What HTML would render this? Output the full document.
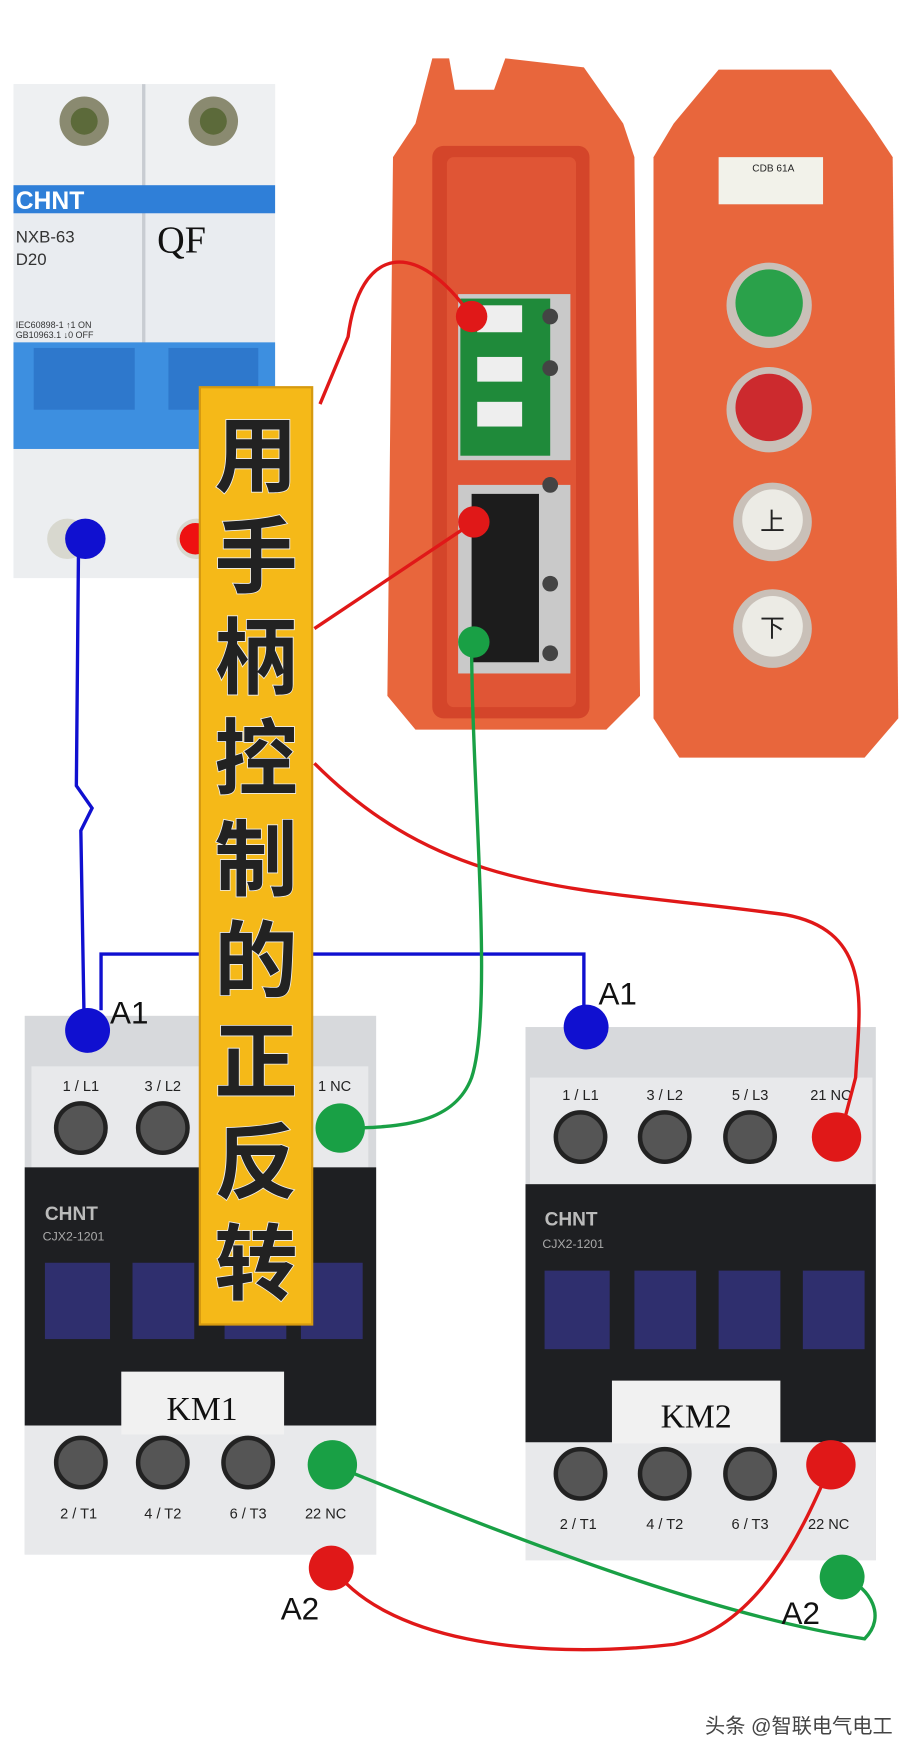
<!DOCTYPE html>
<html><head><meta charset="utf-8"><style>
html,body{margin:0;padding:0;background:#fff}
svg{display:block}
text{font-family:"Liberation Sans","Noto Sans CJK SC",sans-serif}
.serif{font-family:"Liberation Serif",serif}
</style></head><body>
<svg width="914" height="1760" viewBox="0 0 814 1568" preserveAspectRatio="none" xmlns="http://www.w3.org/2000/svg">
<rect width="814" height="1568" fill="#fff"/>
<!-- Breaker -->
<rect x="12" y="75" width="233" height="440" fill="#e9ecf0"/>
<rect x="12" y="75" width="233" height="90" fill="#eef0f2"/>
<line x1="128" y1="75" x2="128" y2="515" stroke="#c8ccd2" stroke-width="3"/>
<circle cx="75" cy="108" r="22" fill="#8a8a70"/><circle cx="75" cy="108" r="12" fill="#5c6a3a"/>
<circle cx="190" cy="108" r="22" fill="#8a8a70"/><circle cx="190" cy="108" r="12" fill="#5c6a3a"/>
<rect x="12" y="165" width="233" height="25" fill="#2f7fd8"/>
<text x="14" y="186" font-size="22" font-weight="bold" fill="#fff">CHNT</text>
<text x="14" y="216" font-size="15" fill="#333">NXB-63</text>
<text x="14" y="236" font-size="15" fill="#333">D20</text>
<text x="140" y="225" font-size="34" class="serif" style="font-family:'Liberation Serif',serif" fill="#111">QF</text>
<text x="14" y="292" font-size="8" fill="#333">IEC60898-1  ↑1 ON</text>
<text x="14" y="301" font-size="8" fill="#333">GB10963.1  ↓0 OFF</text>
<rect x="12" y="305" width="233" height="95" fill="#3d8fe0"/>
<rect x="30" y="310" width="90" height="55" fill="#2e78cc"/>
<rect x="150" y="310" width="80" height="55" fill="#2e78cc"/>
<rect x="12" y="400" width="233" height="115" fill="#eceef0"/>
<circle cx="60" cy="480" r="18" fill="#d8d8cf"/>
<circle cx="175" cy="480" r="18" fill="#d8d8cf"/>
<circle cx="174" cy="480" r="14" fill="#e11"/>
<!-- open pendant -->
<path d="M370 110 L385 52 L400 52 L405 80 L440 80 L450 52 L520 60 L555 110 L565 140 L570 620 L540 650 L370 650 L345 620 L350 140 Z" fill="#e8663c"/>
<rect x="385" y="130" width="140" height="510" rx="10" fill="#d4452a"/>
<rect x="398" y="140" width="115" height="490" rx="6" fill="#e05535"/>
<rect x="408" y="262" width="100" height="148" fill="#c9c9c9"/>
<rect x="410" y="266" width="80" height="140" fill="#1f8a3a"/>
<rect x="425" y="272" width="40" height="24" fill="#eee"/><rect x="425" y="318" width="40" height="22" fill="#eee"/><rect x="425" y="358" width="40" height="22" fill="#eee"/>
<rect x="408" y="432" width="100" height="168" fill="#c9c9c9"/>
<rect x="420" y="440" width="60" height="150" fill="#1c1c1c"/>
<circle cx="490" cy="282" r="7" fill="#444"/><circle cx="490" cy="328" r="7" fill="#444"/><circle cx="490" cy="432" r="7" fill="#444"/><circle cx="490" cy="520" r="7" fill="#444"/><circle cx="490" cy="582" r="7" fill="#444"/>
<!-- closed pendant -->
<path d="M600 110 L640 62 L740 62 L775 110 L795 140 L800 640 L770 675 L605 675 L582 640 L582 140 Z" fill="#e8663c"/>
<rect x="640" y="140" width="93" height="42" fill="#f2f2ea"/>
<text x="670" y="153" font-size="9" fill="#222">CDB  61A</text>
<circle cx="685" cy="272" r="38" fill="#c9c0b8"/><circle cx="685" cy="270" r="30" fill="#2aa14a"/>
<circle cx="685" cy="365" r="38" fill="#c9c0b8"/><circle cx="685" cy="363" r="30" fill="#cc2a2e"/>
<circle cx="688" cy="465" r="35" fill="#c9c0b8"/><circle cx="688" cy="463" r="27" fill="#ecebe5"/>
<text x="688" y="472" font-size="22" text-anchor="middle" fill="#222">上</text>
<circle cx="688" cy="560" r="35" fill="#c9c0b8"/><circle cx="688" cy="558" r="27" fill="#ecebe5"/>
<text x="688" y="567" font-size="22" text-anchor="middle" fill="#222">下</text>
<!-- contactors -->
<g>
<rect x="22" y="905" width="313" height="480" fill="#d7d9dc"/>
<rect x="28" y="950" width="300" height="92" fill="#e8e9eb"/>
<rect x="22" y="1040" width="313" height="230" fill="#1e1f22"/>
<rect x="40" y="1125" width="58" height="68" fill="#2f2f6e"/><rect x="118" y="1125" width="55" height="68" fill="#2f2f6e"/><rect x="200" y="1125" width="55" height="68" fill="#2f2f6e"/><rect x="268" y="1125" width="55" height="68" fill="#2f2f6e"/>
<text x="40" y="1087" font-size="17" font-weight="bold" fill="#bbb">CHNT</text>
<text x="38" y="1105" font-size="11" fill="#aaa">CJX2-1201</text>
<rect x="22" y="1270" width="313" height="115" fill="#e8e9eb"/>
<rect x="108" y="1222" width="145" height="56" fill="#f1f1f1"/>
<text x="180" y="1265" font-size="30" style="font-family:'Liberation Serif',serif" text-anchor="middle" fill="#111">KM1</text>
<g font-size="13" fill="#222" text-anchor="middle"><text x="72" y="972">1 / L1</text><text x="145" y="972">3 / L2</text><text x="298" y="972">1 NC</text>
<text x="70" y="1353">2 / T1</text><text x="145" y="1353">4 / T2</text><text x="221" y="1353">6 / T3</text><text x="290" y="1353">22 NC</text></g>
<g fill="#555" stroke="#222" stroke-width="4"><circle cx="72" cy="1005" r="22"/><circle cx="145" cy="1005" r="22"/><circle cx="72" cy="1303" r="22"/><circle cx="145" cy="1303" r="22"/><circle cx="221" cy="1303" r="22"/></g>
</g>
<g>
<rect x="468" y="915" width="312" height="475" fill="#d7d9dc"/>
<rect x="472" y="960" width="305" height="95" fill="#e8e9eb"/>
<rect x="468" y="1055" width="312" height="230" fill="#1e1f22"/>
<rect x="485" y="1132" width="58" height="70" fill="#2f2f6e"/><rect x="565" y="1132" width="55" height="70" fill="#2f2f6e"/><rect x="640" y="1132" width="55" height="70" fill="#2f2f6e"/><rect x="715" y="1132" width="55" height="70" fill="#2f2f6e"/>
<text x="485" y="1092" font-size="17" font-weight="bold" fill="#bbb">CHNT</text>
<text x="483" y="1112" font-size="11" fill="#aaa">CJX2-1201</text>
<rect x="468" y="1285" width="312" height="105" fill="#e8e9eb"/>
<rect x="545" y="1230" width="150" height="56" fill="#f1f1f1"/>
<text x="620" y="1272" font-size="30" style="font-family:'Liberation Serif',serif" text-anchor="middle" fill="#111">KM2</text>
<g font-size="13" fill="#222" text-anchor="middle"><text x="517" y="980">1 / L1</text><text x="592" y="980">3 / L2</text><text x="668" y="980">5 / L3</text><text x="740" y="980">21 NC</text>
<text x="515" y="1362">2 / T1</text><text x="592" y="1362">4 / T2</text><text x="668" y="1362">6 / T3</text><text x="738" y="1362">22 NC</text></g>
<g fill="#555" stroke="#222" stroke-width="4"><circle cx="517" cy="1013" r="22"/><circle cx="592" cy="1013" r="22"/><circle cx="668" cy="1013" r="22"/><circle cx="517" cy="1313" r="22"/><circle cx="592" cy="1313" r="22"/><circle cx="668" cy="1313" r="22"/></g>
</g>
<!-- wires -->
<g fill="none" stroke-width="3">
<path d="M70 480 L68 700 L82 720 L72 740 L75 915" stroke="#1010d0"/>
<path d="M90 900 L90 850 L520 850 L520 912" stroke="#1010d0"/>
<path d="M420 282 C370 210 320 220 310 300 L285 360" stroke="#e01818"/>
<path d="M422 465 L280 560" stroke="#e01818"/>
<path d="M280 680 C400 800 520 790 700 815 C780 830 765 900 762 960 L748 1013" stroke="#e01818"/>
<path d="M420 572 C420 700 440 900 420 960 C405 1000 360 1005 303 1005" stroke="#19a045"/>
<path d="M296 1305 C480 1380 640 1440 770 1460 C790 1440 775 1415 752 1405" stroke="#19a045"/>
<path d="M295 1395 C340 1460 470 1480 600 1465 C680 1450 720 1350 740 1305" stroke="#e01818"/>
</g>
<!-- dots -->
<circle cx="76" cy="480" r="18" fill="#1010d0"/>
<circle cx="420" cy="282" r="14" fill="#e01818"/>
<circle cx="422" cy="465" r="14" fill="#e01818"/>
<circle cx="422" cy="572" r="14" fill="#19a045"/>
<circle cx="78" cy="918" r="20" fill="#1010d0"/>
<circle cx="522" cy="915" r="20" fill="#1010d0"/>
<circle cx="303" cy="1005" r="22" fill="#19a045"/>
<circle cx="745" cy="1013" r="22" fill="#e01818"/>
<circle cx="296" cy="1305" r="22" fill="#19a045"/>
<circle cx="740" cy="1305" r="22" fill="#e01818"/>
<circle cx="295" cy="1397" r="20" fill="#e01818"/>
<circle cx="750" cy="1405" r="20" fill="#19a045"/>
<g font-size="28" fill="#111"><text x="98" y="912">A1</text><text x="533" y="895">A1</text><text x="250" y="1443">A2</text><text x="696" y="1447">A2</text></g>
<!-- banner -->
<rect x="178" y="345" width="100" height="835" fill="#f5b918" stroke="#d69a10" stroke-width="2"/>
<g font-size="74" font-weight="bold" fill="#222" stroke="#eee" stroke-width="1.5" paint-order="stroke" text-anchor="middle">
<text x="228" y="432">用</text><text x="228" y="522">手</text><text x="228" y="612">柄</text><text x="228" y="702">控</text><text x="228" y="792">制</text><text x="228" y="882">的</text><text x="228" y="972">正</text><text x="228" y="1062">反</text><text x="228" y="1152">转</text></g>
<text x="795" y="1544" font-size="18" fill="#444" text-anchor="end">头条 @智联电气电工</text>
</svg>
</body></html>
